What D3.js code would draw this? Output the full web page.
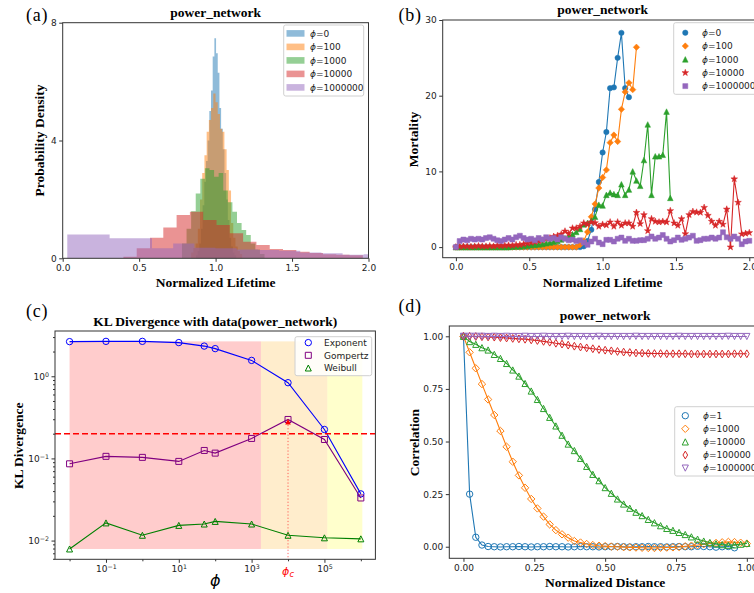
<!DOCTYPE html>
<html>
<head>
<meta charset="utf-8">
<script src="https://cdn.jsdelivr.net/npm/d3@7"></script>
<style>
  html, body { margin: 0; padding: 0; background: #fff; }
  svg { display: block; }
</style>
</head>
<body>
<svg id="fig" width="754" height="593"></svg>
<script>
// ---------------- (a) lifetime histograms ----------------
const histPhi = ["0", "100", "1000", "10000", "1000000"];
const histBinStart = [0.871, 0.84, 0.78, 0.397, 0.03];
const histBinWidth = [0.011, 0.0145, 0.03, 0.087, 0.1385];
const densityPhi0 = [0.1, 0.25, 0.5, 1.0, 1.8, 2.6, 3.3, 4.0, 5.0, 5.7, 6.85, 7.47,
                     6.96, 6.3, 5.1, 4.4, 3.7, 2.9, 2.0, 1.3, 0.7, 0.4, 0.2, 0.1];
const densityPhi100 = [0.2, 0.35, 0.5, 1.0, 2.0, 2.9, 3.5, 4.3, 4.7, 5.1, 5.6, 5.3,
                       4.9, 4.4, 4.3, 3.7, 3.0, 2.3, 1.2, 0.7, 0.4, 0.25, 0.15];
const densityPhi1000 = [0.5, 1.0, 1.6, 2.2, 2.7, 3.06, 3.0, 2.77, 2.9, 2.3, 1.9, 1.58,
                        1.2, 0.96, 0.79, 0.5, 0.3, 0.15];
const densityPhi10000 = [0.05, 0.34, 0.7, 1.05, 1.47, 1.58, 1.3, 1.13, 0.85, 0.56, 0.45,
                         0.32, 0.28, 0.22, 0.18, 0.14, 0.12, 0.1];
const densityPhi1000000 = [0.81, 0.81, 0.68, 0.68, 0.34, 0.5, 0.36, 0.34, 0.3, 0.28, 0.26,
                           0.2, 0.17, 0.12, 0.14];
const histTicksX = [0, 0.5, 1.0, 1.5, 2.0];
const histTicksY = [0, 4, 8];

// ---------------- (b) mortality curves ----------------
const mortalityStep = 1 / 39;
const mortalityPhi = ["0", "100", "1000", "10000", "1000000"];
const mortalityPhi0 = [0, 0, 0, 0, 0, 0, 0, 0, 0, 0, 0, 0, 0, 0, 0, 0, 0, 0, 0, 0,
                       0, 0, 0, 0, 0, 0, 0, 0, 0, 0, 0, 0, 0, 0,
                       0.1, 0.8, 2.3, 5.0, 8.6, 12.5, 15.2, 21.0, 21.1, 25.0, 28.3, 21.0, 19.8];
const mortalityPhi100 = [0, 0, 0, 0, 0, 0, 0, 0, 0, 0, 0, 0, 0, 0, 0, 0, 0, 0, 0, 0,
                         0, 0, 0, 0, 0, 0, 0, 0, 0, 0, 0, 0, 0,
                         0.3, 0.8, 2.0, 4.0, 5.7, 7.8, 9.2, 10.2, 13.8, 14.8, 13.95, 18.2,
                         20.5, 21.7, 20.8, 26.4];
const mortalityPhi1000 = [0, 0, 0, 0, 0, 0, 0, 0, 0, 0, 0, 0, 0, 0, 0,
                          0.05, 0.1, 0.1, 0.15, 0.2, 0.25, 0.3, 0.35, 0.4, 0.5, 0.6, 0.7,
                          0.8, 1.0, 1.2, 1.4, 1.7, 2.0, 2.4, 3.0, 3.2, 3.5, 4.0,
                          5.6, 5.5, 6.9, 7.2, 7.0, 6.9, 8.3, 6.9, 7.6, 10.0, 8.8, 8.1,
                          11.5, 16.2, 6.9, 12.0, 12.0, 12.2, 17.9, 6.5];
const mortalityPhi10000 = [0, 0.05, 0.1, 0.1, 0.05, 0.1, 0.15, 0.1, 0.1, 0.15,
                           0.1, 0.2, 0.15, 0.2, 0.25, 0.2, 0.3, 0.3, 0.4, 0.5,
                           0.6, 0.7, 0.8, 0.9, 1.1, 1.2, 1.4, 1.5, 1.7, 2.1,
                           1.8, 2.5, 2.5, 2.73, 3.17, 3.0, 3.3, 3.2, 2.73, 3.0,
                           2.9, 3.3, 2.73, 3.3, 2.86, 3.17, 3.17, 2.73, 4.57, 3.08,
                           4.27, 2.15, 3.74, 3.39, 3.3, 3.39, 3.3, 4.8, 3.17, 2.86,
                           3.74, 1.76, 4.27, 4.7, 4.6, 4.57, 5.23, 4.18, 3.39, 2.86,
                           3.39, 3.0, 5.0, 0.0, 9.0, 5.9, 1.72, 1.8, 1.9];
const mortalityPhi1000000 = [0, 0.8, 1.0, 0.9, 1.1, 1.0, 1.1, 1.0, 1.2, 1.3,
                             1.1, 0.9, 0.8, 1.0, 1.2, 1.0, 1.3, 1.5, 1.2, 1.0,
                             1.1, 0.9, 1.2, 1.0, 1.3, 1.1, 1.2, 1.0, 1.3, 1.1,
                             0.9, 1.0, 0.8, 0.9, 0.6, 0.3, 0.74, 1.1, 0.6, 0.39,
                             0.96, 0.96, 0.74, 1.1, 1.26, 0.83, 1.1, 0.83, 0.83, 0.92,
                             0.92, 1.1, 1.4, 1.1, 1.26, 1.6, 1.1, 0.74, 0.92, 1.26,
                             0.96, 1.1, 1.26, 1.5, 0.83, 0.92, 1.1, 1.1, 1.26, 1.1,
                             1.26, 1.96, 1.3, 1.1, 1.4, 1.1, 0.39, 0.74, 0.83];
const mortalityTicksX = [0, 0.5, 1.0, 1.5, 2.0];
const mortalityTicksY = [0, 10, 20, 30];

// ---------------- (c) KL divergence of fitted models ----------------
const klPhi = [0.01, 0.1, 1, 10, 50, 100, 1000, 10000, 100000, 1000000];
const klModels = ["Exponent", "Gompertz", "Weibull"];
const klExponent = [2.64, 2.66, 2.66, 2.57, 2.33, 2.17, 1.56, 0.835, 0.225, 0.037];
const klGompertz = [0.086, 0.106, 0.103, 0.092, 0.125, 0.116, 0.175, 0.298, 0.17, 0.033];
const klWeibull = [0.0079, 0.0164, 0.0116, 0.0153, 0.0159, 0.0171, 0.0159, 0.0116, 0.0108, 0.0105];
const klThreshold = 0.2;
const phiCritical = 10000;
const phiCriticalKL = 0.28;
const regimeEdges = [0.01, 1800, 120000, 1100000];
const klTicksX = [0.1, 10, 1000, 100000];
const klMinorTicksX = [0.01, 1, 100, 10000, 1000000];
const klTicksY = [0.01, 0.1, 1];

// ---------------- (d) spatial correlation ----------------
const distanceStep = 1 / 46;
const corrPhi = ["1", "1000", "10000", "100000", "1000000"];
const corrPhi1 = [1.0, 0.25, 0.045, 0.008, 0.001, 0.0, -0.001, 0.0, 0.0, 0.001,
                  0.0, -0.001, 0.0, 0.0, 0.001, 0.0, 0.0, -0.001, 0.0, 0.001,
                  0.0, 0.0, -0.001, 0.0, 0.0, 0.001, 0.0, -0.001, 0.0, 0.0,
                  0.001, 0.0, 0.0, -0.001, 0.0, 0.001, 0.0, 0.0, 0.002, 0.001,
                  0.0, -0.002, 0.0, 0.001, -0.005];
const corrPhi1000 = [1.0, 0.924, 0.848, 0.773, 0.70, 0.626, 0.55, 0.475, 0.404, 0.339,
                     0.28, 0.227, 0.182, 0.143, 0.106, 0.079, 0.059, 0.043, 0.027, 0.02,
                     0.013, 0.008, 0.005, 0.003, 0.001, 0.0, -0.002, -0.003, -0.004, -0.005,
                     -0.006, -0.006, -0.005, -0.004, -0.003, -0.001, 0.002, 0.005, 0.008, 0.012,
                     0.015, 0.018, 0.021, 0.023, 0.022, 0.019, 0.015];
const corrPhi10000 = [1.0, 0.975, 0.962, 0.946, 0.935, 0.914, 0.895, 0.871, 0.840, 0.811,
                      0.776, 0.740, 0.700, 0.657, 0.615, 0.574, 0.530, 0.488, 0.457, 0.420,
                      0.382, 0.344, 0.314, 0.281, 0.254, 0.227, 0.203, 0.183, 0.164, 0.148,
                      0.130, 0.114, 0.100, 0.087, 0.078, 0.068, 0.058, 0.047, 0.036, 0.027,
                      0.02, 0.014, 0.01, 0.007, 0.009, 0.012, 0.016];
const corrPhi100000 = [1.0, 1.0, 0.999, 0.998, 0.997, 0.996, 0.994, 0.992, 0.99, 0.988,
                       0.986, 0.983, 0.98, 0.976, 0.972, 0.967, 0.963, 0.958, 0.953, 0.949,
                       0.945, 0.941, 0.937, 0.934, 0.931, 0.928, 0.925, 0.923, 0.921, 0.92,
                       0.919, 0.918, 0.918, 0.917, 0.917, 0.917, 0.917, 0.916, 0.916, 0.916,
                       0.916, 0.916, 0.916, 0.916, 0.917, 0.917, 0.917];
const corrPhi1000000 = [1.0, 1.0, 1.0, 1.0, 0.999, 1.0, 0.999, 1.0, 0.999, 0.999,
                        1.0, 0.999, 0.999, 1.0, 0.999, 0.999, 0.999, 1.0, 0.999, 0.999,
                        0.999, 0.999, 1.0, 0.999, 0.999, 0.999, 0.999, 0.999, 1.0, 0.999,
                        0.999, 0.999, 0.999, 0.999, 0.999, 1.0, 0.999, 0.999, 0.999, 0.999,
                        0.999, 0.999, 0.999, 1.0, 0.999, 0.999, 0.999];
const corrTicks = [0, 0.25, 0.5, 0.75, 1.0];

// ---------------- shared styling ----------------
const SERIF = "'Liberation Serif', 'Times New Roman', serif";
const SANS = "'DejaVu Sans', Verdana, sans-serif";
const TAB = ["#1f77b4", "#ff7f0e", "#2ca02c", "#d62728", "#9467bd"];

const svg = d3.select("#fig");
const defs = svg.append("defs");

function panelClip(id, f) {
  defs.append("clipPath").attr("id", id).append("rect")
    .attr("x", f.l).attr("y", f.t).attr("width", f.r - f.l).attr("height", f.b - f.t);
  return `url(#${id})`;
}

function drawFrame(f) {
  svg.append("rect")
    .attr("x", f.l).attr("y", f.t).attr("width", f.r - f.l).attr("height", f.b - f.t)
    .attr("fill", "none").attr("stroke", "#333").attr("stroke-width", 1);
}

function styleAxis(g) {
  g.attr("font-family", SANS).attr("font-size", 9);
  g.select(".domain").remove();
  g.selectAll(".tick line").attr("stroke", "#333");
  g.selectAll(".tick text").attr("fill", "#222");
}

function xAxis(scale, y, ticks, fmt, size = 3.5) {
  return svg.append("g").attr("transform", `translate(0,${y})`)
    .call(d3.axisBottom(scale).tickValues(ticks).tickFormat(fmt).tickSize(size).tickPadding(2.5))
    .call(styleAxis);
}

function yAxis(scale, x, ticks, fmt, size = 3.5) {
  return svg.append("g").attr("transform", `translate(${x},0)`)
    .call(d3.axisLeft(scale).tickValues(ticks).tickFormat(fmt).tickSize(size).tickPadding(2.5))
    .call(styleAxis);
}

// "10" with a raised exponent, as on log axes
function powerLabels(g) {
  g.selectAll(".tick text").each(function (d) {
    const e = Math.round(Math.log10(d));
    const t = d3.select(this).text(null);
    t.append("tspan").text("10");
    t.append("tspan").attr("dy", "-0.45em").attr("font-size", "70%")
      .text(e < 0 ? "\u2212" + (-e) : String(e));
  });
}

function serifText(x, y, str, size, weight = "bold") {
  return svg.append("text").attr("x", x).attr("y", y)
    .attr("font-family", SERIF).attr("font-size", size).attr("font-weight", weight)
    .attr("text-anchor", "middle").attr("fill", "#000").text(str);
}

function rotatedLabel(x, y, str) {
  return svg.append("text")
    .attr("transform", `translate(${x},${y}) rotate(-90)`)
    .attr("font-family", SERIF).attr("font-size", 13.5).attr("font-weight", "bold")
    .attr("text-anchor", "middle").attr("fill", "#000").text(str);
}

function panelTag(x, y, str) {
  svg.append("text").attr("x", x).attr("y", y)
    .attr("font-family", SERIF).attr("font-size", 18).attr("letter-spacing", 0.8)
    .attr("fill", "#000").text(str);
}

function phiText(sel, value) {
  sel.append("tspan").attr("font-style", "italic").text("\u03d5");
  sel.append("tspan").text("=" + value);
}

// marker outlines, radius-based
const shapes = {
  circle(c, r) { c.moveTo(r, 0); c.arc(0, 0, r, 0, 2 * Math.PI); },
  square(c, r) { c.moveTo(-r, -r); c.lineTo(r, -r); c.lineTo(r, r); c.lineTo(-r, r); c.closePath(); },
  diamond(c, r) { c.moveTo(0, -r); c.lineTo(r, 0); c.lineTo(0, r); c.lineTo(-r, 0); c.closePath(); },
  thinDiamond(c, r) { c.moveTo(0, -r); c.lineTo(0.6 * r, 0); c.lineTo(0, r); c.lineTo(-0.6 * r, 0); c.closePath(); },
  triangleUp(c, r) { c.moveTo(0, -r); c.lineTo(r, r); c.lineTo(-r, r); c.closePath(); },
  triangleDown(c, r) { c.moveTo(0, r); c.lineTo(r, -r); c.lineTo(-r, -r); c.closePath(); },
  star(c, r) {
    for (let k = 0; k < 10; k++) {
      const a = -Math.PI / 2 + k * Math.PI / 5;
      const rr = k % 2 ? r * 0.4 : r;
      if (k === 0) c.moveTo(rr * Math.cos(a), rr * Math.sin(a));
      else c.lineTo(rr * Math.cos(a), rr * Math.sin(a));
    }
    c.closePath();
  }
};
function markerPath(name, r) {
  return d3.symbol().type({ draw: (c, size) => shapes[name](c, Math.sqrt(size)) }).size(r * r)();
}

function legendBox(x, y, w, h) {
  svg.append("rect").attr("x", x).attr("y", y).attr("width", w).attr("height", h)
    .attr("rx", 2).attr("fill", "#fff").attr("fill-opacity", 0.85)
    .attr("stroke", "#d0d0d0").attr("stroke-width", 1);
}

function legendText(x, y) {
  return svg.append("text").attr("x", x).attr("y", y + 3.2)
    .attr("font-family", SANS).attr("font-size", 9).attr("fill", "#222");
}

// =============== (a) ===============
const fa = { l: 62.7, r: 368.5, t: 22.7, b: 258.3 };
const xa = d3.scaleLinear().domain([0, 2]).range([fa.l, fa.r]);
const ya = d3.scaleLinear().domain([0, 8]).range([fa.b, fa.t]);
const densitySeries = [densityPhi0, densityPhi100, densityPhi1000, densityPhi10000, densityPhi1000000];
const histArea = d3.area().curve(d3.curveStepAfter)
  .x(d => xa(d[0])).y0(ya(0)).y1(d => ya(d[1]));
const gA = svg.append("g").attr("clip-path", panelClip("clip-a", fa));
densitySeries.forEach((h, s) => {
  const pts = h.map((v, k) => [histBinStart[s] + k * histBinWidth[s], v]);
  pts.push([histBinStart[s] + h.length * histBinWidth[s], h[h.length - 1]]);
  gA.append("path").attr("d", histArea(pts)).attr("fill", TAB[s]).attr("fill-opacity", 0.5);
});
drawFrame(fa);
xAxis(xa, fa.b, histTicksX, d3.format(".1f"));
yAxis(ya, fa.l, histTicksY, d3.format("d"));
serifText(215.6, 16.5, "power_network", 13.5);
serifText(215.6, 287, "Normalized Lifetime", 13.5);
rotatedLabel(44, 140.5, "Probability Density");
panelTag(26, 21, "(a)");

legendBox(283.7, 25, 80, 71);
histPhi.forEach((p, k) => {
  const y = 33.4 + 13.5 * k;
  svg.append("rect").attr("x", 286.5).attr("y", y - 3.3).attr("width", 18).attr("height", 6.6)
    .attr("fill", TAB[k]).attr("fill-opacity", 0.5);
  phiText(legendText(310, y), p);
});

// =============== (b) ===============
const fb = { l: 442.7, r: 762.5, t: 20, b: 257.7 };
const xb = d3.scaleLinear().domain([-0.09, 2.09]).range([fb.l, fb.r]);
const yb = d3.scaleLinear().domain([-1.4, 30]).range([fb.b, fb.t]);
const mortalitySeries = [mortalityPhi0, mortalityPhi100, mortalityPhi1000, mortalityPhi10000, mortalityPhi1000000];
const mortalityShapes = ["circle", "diamond", "triangleUp", "star", "square"];
const mortalitySizes = [2.7, 3.2, 2.8, 3.5, 2.5];
const mortalityLine = d3.line().x(d => xb(d[0])).y(d => yb(d[1]));
const gB = svg.append("g").attr("clip-path", panelClip("clip-b", fb));
mortalitySeries.forEach((vals, s) => {
  const pts = vals.map((m, i) => [i * mortalityStep, m]);
  gB.append("path").attr("d", mortalityLine(pts)).attr("fill", "none")
    .attr("stroke", TAB[s]).attr("stroke-width", 1.1);
  const mp = markerPath(mortalityShapes[s], mortalitySizes[s]);
  gB.selectAll(null).data(pts).join("path")
    .attr("transform", d => `translate(${xb(d[0])},${yb(d[1])})`)
    .attr("d", mp).attr("fill", TAB[s]).attr("stroke", TAB[s]).attr("stroke-width", 0.5);
});
drawFrame(fb);
xAxis(xb, fb.b, mortalityTicksX, d3.format(".1f"));
yAxis(yb, fb.l, mortalityTicksY, d3.format("d"));
serifText(602.6, 14, "power_network", 13.5);
serifText(602.6, 287, "Normalized Lifetime", 13.5);
rotatedLabel(417.6, 139.5, "Mortality");
panelTag(398.5, 21, "(b)");

legendBox(673.7, 22.7, 95, 71.6);
mortalityPhi.forEach((p, k) => {
  const y = 32.7 + 13.35 * k;
  svg.append("path").attr("transform", `translate(685.3,${y})`)
    .attr("d", markerPath(mortalityShapes[k], mortalitySizes[k]))
    .attr("fill", TAB[k]).attr("stroke", TAB[k]).attr("stroke-width", 0.5);
  phiText(legendText(702, y), p);
});

// =============== (c) ===============
const fc = { l: 55, r: 375.4, t: 331, b: 559.3 };
const xc = d3.scaleLog().domain([10 ** -2.4, 10 ** 6.4]).range([fc.l, fc.r]);
const yc = d3.scaleLog().domain([10 ** -2.228, 10 ** 0.551]).range([fc.b, fc.t]);
const klSeries = [klExponent, klGompertz, klWeibull];
const klColors = ["#0000ff", "#800080", "#008000"];
const klShapes = ["circle", "square", "triangleUp"];
const klSizes = [3.2, 3.0, 3.0];
const [klMin, klMax] = d3.extent(klSeries.flat());
const regimeColors = ["rgba(255,0,0,0.2)", "rgba(255,165,0,0.2)", "rgba(255,255,0,0.2)"];
const gC = svg.append("g").attr("clip-path", panelClip("clip-c", fc));
regimeColors.forEach((col, k) => {
  gC.append("rect")
    .attr("x", xc(regimeEdges[k])).attr("width", xc(regimeEdges[k + 1]) - xc(regimeEdges[k]))
    .attr("y", yc(klMax)).attr("height", yc(klMin) - yc(klMax))
    .attr("fill", col);
});
const klLine = d3.line().x(d => xc(d[0])).y(d => yc(d[1]));
klSeries.forEach((vals, s) => {
  const pts = vals.map((v, i) => [klPhi[i], v]);
  gC.append("path").attr("d", klLine(pts)).attr("fill", "none")
    .attr("stroke", klColors[s]).attr("stroke-width", 1.1);
  const mp = markerPath(klShapes[s], klSizes[s]);
  gC.selectAll(null).data(pts).join("path")
    .attr("transform", d => `translate(${xc(d[0])},${yc(d[1])})`)
    .attr("d", mp).attr("fill", "none").attr("stroke", klColors[s]).attr("stroke-width", 1);
});
gC.append("line")
  .attr("x1", fc.l).attr("x2", fc.r).attr("y1", yc(klThreshold)).attr("y2", yc(klThreshold))
  .attr("stroke", "#ff0000").attr("stroke-width", 1.5).attr("stroke-dasharray", "6,3");
gC.append("line")
  .attr("x1", xc(phiCritical)).attr("x2", xc(phiCritical))
  .attr("y1", yc(phiCriticalKL)).attr("y2", fc.b)
  .attr("stroke", "#ff3030").attr("stroke-opacity", 0.75).attr("stroke-width", 1)
  .attr("stroke-dasharray", "1.2,2");
gC.append("path")
  .attr("transform", `translate(${xc(phiCritical)},${yc(phiCriticalKL)})`)
  .attr("d", markerPath("triangleUp", 2.8)).attr("fill", "#ff0000");
drawFrame(fc);
xAxis(xc, fc.b, klTicksX, () => "").call(powerLabels);
xAxis(xc, fc.b, klMinorTicksX, () => "", 2);
yAxis(yc, fc.l, klTicksY, () => "").call(powerLabels);
yAxis(yc, fc.l, yc.ticks().filter(t => Math.abs(Math.log10(t) - Math.round(Math.log10(t))) > 1e-6), () => "", 2);

const phiC = svg.append("text").attr("x", xc(phiCritical)).attr("y", 574.5)
  .attr("text-anchor", "middle").attr("font-family", SANS).attr("font-size", 11)
  .attr("fill", "#ff0000");
phiC.append("tspan").attr("font-style", "italic").text("\u03d5");
phiC.append("tspan").attr("font-style", "italic").attr("font-size", "75%").attr("dy", "0.3em").text("c");

serifText(215.2, 325.5, "KL Divergence with data(power_network)", 13.5);
svg.append("text").attr("x", 215.2).attr("y", 586)
  .attr("text-anchor", "middle").attr("font-family", SANS).attr("font-size", 16)
  .attr("font-style", "italic").attr("fill", "#000").text("\u03d5");
rotatedLabel(22.5, 445.8, "KL Divergence");
panelTag(26, 317, "(c)");

legendBox(295, 336.7, 76.7, 39);
klModels.forEach((name, k) => {
  const y = 342.6 + 12.7 * k;
  svg.append("path").attr("transform", `translate(308.3,${y})`)
    .attr("d", markerPath(klShapes[k], klSizes[k]))
    .attr("fill", "none").attr("stroke", klColors[k]).attr("stroke-width", 1);
  legendText(324, y).text(name);
});

// =============== (d) ===============
const fd = { l: 449.3, r: 761, t: 326, b: 558.3 };
const xd = d3.scaleLinear().domain([-0.05, 1.05]).range([fd.l, fd.r]);
const yd = d3.scaleLinear().domain([-0.055, 1.049]).range([fd.b, fd.t]);
const corrSeries = [corrPhi1, corrPhi1000, corrPhi10000, corrPhi100000, corrPhi1000000];
const corrShapes = ["circle", "diamond", "triangleUp", "thinDiamond", "triangleDown"];
const corrSizes = [3.2, 3.7, 3.1, 3.9, 3.1];
const corrLine = d3.line().x(d => xd(d[0])).y(d => yd(d[1]));
const gD = svg.append("g").attr("clip-path", panelClip("clip-d", fd));
corrSeries.forEach((vals, s) => {
  const pts = vals.map((c, i) => [i * distanceStep, c]);
  gD.append("path").attr("d", corrLine(pts)).attr("fill", "none")
    .attr("stroke", TAB[s]).attr("stroke-width", 1.1);
  const mp = markerPath(corrShapes[s], corrSizes[s]);
  gD.selectAll(null).data(pts).join("path")
    .attr("transform", d => `translate(${xd(d[0])},${yd(d[1])})`)
    .attr("d", mp).attr("fill", "none").attr("stroke", TAB[s]).attr("stroke-width", 1);
});
drawFrame(fd);
xAxis(xd, fd.b, corrTicks, d3.format(".2f"));
yAxis(yd, fd.l, corrTicks, d3.format(".2f"));
serifText(605.2, 320, "power_network", 13.5);
serifText(605.2, 586.5, "Normalized Distance", 13.5);
rotatedLabel(418.5, 442.5, "Correlation");
panelTag(398.5, 312, "(d)");

legendBox(674.7, 406.7, 95, 69.3);
corrPhi.forEach((p, k) => {
  const y = 415.7 + 13.1 * k;
  svg.append("path").attr("transform", `translate(685.3,${y})`)
    .attr("d", markerPath(corrShapes[k], corrSizes[k]))
    .attr("fill", "none").attr("stroke", TAB[k]).attr("stroke-width", 1);
  phiText(legendText(703, y), p);
});
</script>
</body>
</html>
